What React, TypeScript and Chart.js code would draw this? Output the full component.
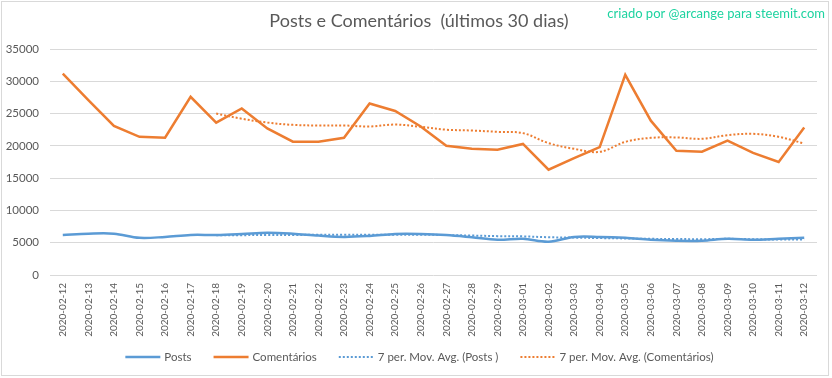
import React, { useEffect, useRef } from "react";
import { Chart, registerables } from "chart.js";

Chart.register(...registerables);

const labels = [
  "2020-02-12", "2020-02-13", "2020-02-14", "2020-02-15", "2020-02-16", "2020-02-17",
  "2020-02-18", "2020-02-19", "2020-02-20", "2020-02-21", "2020-02-22", "2020-02-23",
  "2020-02-24", "2020-02-25", "2020-02-26", "2020-02-27", "2020-02-28", "2020-02-29",
  "2020-03-01", "2020-03-02", "2020-03-03", "2020-03-04", "2020-03-05", "2020-03-06",
  "2020-03-07", "2020-03-08", "2020-03-09", "2020-03-10", "2020-03-11", "2020-03-12",
];

const posts = [
  6200, 6400, 6400, 5750, 5900, 6200, 6200, 6350, 6550, 6400, 6100, 5900,
  6050, 6350, 6350, 6200, 5850, 5450, 5600, 5150, 5900, 5900, 5750, 5450,
  5300, 5300, 5600, 5450, 5600, 5750,
];

const comentarios = [
  31200, 27100, 23100, 21400, 21250, 27600, 23600, 25800, 22700, 20650, 20650, 21250,
  26550, 25400, 23000, 20000, 19550, 19400, 20300, 16300, 18100, 19800, 31000, 23900,
  19250, 19100, 20800, 18900, 17500, 22850,
];

const maPosts = [
  null, null, null, null, null, null, 6150, 6170, 6190, 6190, 6240, 6240,
  6220, 6240, 6240, 6190, 6110, 6020, 5980, 5850, 5790, 5720, 5660, 5600,
  5580, 5540, 5600, 5540, 5490, 5490,
];

const maComentarios = [
  null, null, null, null, null, null, 25000, 24200, 23600, 23250, 23150, 23150,
  23000, 23300, 22950, 22500, 22380, 22170, 21970, 20420, 19540, 19070, 20620, 21240,
  21300, 21090, 21660, 21860, 21400, 20360,
];

const yTicks = { min: 0, max: 35000, step: 5000 };

const titleText = "Posts e Comentários  (últimos 30 dias)";
const watermark = "criado por @arcange para steemit.com";

const BLUE = "#5B9BD5";
const ORANGE = "#ED7D31";
const GREY = "#595959";
const FONT = "Lato, 'Liberation Sans', sans-serif";

const legendItems = [
  { text: "Posts", color: BLUE, dash: [] as number[] },
  { text: "Comentários", color: ORANGE, dash: [] as number[] },
  { text: "7 per. Mov. Avg. (Posts )", color: BLUE, dash: [2, 2] },
  { text: "7 per. Mov. Avg. (Comentários)", color: ORANGE, dash: [2, 2] },
];

const decorPlugin = {
  id: "decor",
  afterDraw(chart: any) {
    const ctx = chart.ctx as CanvasRenderingContext2D;
    ctx.save();
    // border
    ctx.strokeStyle = "#d9d9d9";
    ctx.lineWidth = 1;
    ctx.setLineDash([]);
    ctx.strokeRect(1.5, 1.5, 827, 374);
    // title
    ctx.fillStyle = GREY;
    ctx.font = `18px ${FONT}`;
    ctx.textAlign = "center";
    ctx.textBaseline = "middle";
    ctx.fillText(titleText, 419, 21);
    // watermark
    ctx.fillStyle = "#1ED3A0";
    ctx.font = `13px ${FONT}`;
    ctx.textAlign = "right";
    ctx.fillText(watermark, 825, 14);
    // legend
    ctx.font = `11.5px ${FONT}`;
    ctx.textAlign = "left";
    const lineW = 35;
    const gap = 4;
    const itemGap = 22;
    const widths = legendItems.map((it) => lineW + gap + ctx.measureText(it.text).width);
    const total = widths.reduce((a, b) => a + b, 0) + itemGap * (legendItems.length - 1);
    let x = 419.5 - total / 2;
    const y = 357;
    legendItems.forEach((it, i) => {
      ctx.strokeStyle = it.color;
      ctx.lineWidth = it.dash.length ? 2 : 2.5;
      ctx.setLineDash(it.dash);
      ctx.beginPath();
      ctx.moveTo(x, y);
      ctx.lineTo(x + lineW, y);
      ctx.stroke();
      ctx.setLineDash([]);
      ctx.fillStyle = GREY;
      ctx.fillText(it.text, x + lineW + gap, y);
      x += widths[i] + itemGap;
    });
    ctx.restore();
  },
};

export default function App() {
  const ref = useRef<HTMLCanvasElement | null>(null);

  useEffect(() => {
    document.body.style.margin = "0";
    const canvas = ref.current;
    if (!canvas) return;
    const chart = new Chart(canvas, {
      type: "line",
      data: {
        labels,
        datasets: [
          {
            label: "Posts",
            data: posts,
            borderColor: BLUE,
            backgroundColor: BLUE,
            borderWidth: 2.5,
            pointRadius: 0,
            tension: 0.35,
          },
          {
            label: "Comentários",
            data: comentarios,
            borderColor: ORANGE,
            backgroundColor: ORANGE,
            borderWidth: 2.5,
            pointRadius: 0,
            tension: 0,
          },
          {
            label: "7 per. Mov. Avg. (Posts )",
            data: maPosts,
            borderColor: BLUE,
            backgroundColor: BLUE,
            borderWidth: 2,
            borderDash: [2, 2],
            pointRadius: 0,
            tension: 0.35,
          },
          {
            label: "7 per. Mov. Avg. (Comentários)",
            data: maComentarios,
            borderColor: ORANGE,
            backgroundColor: ORANGE,
            borderWidth: 2,
            borderDash: [2, 2],
            pointRadius: 0,
            tension: 0.35,
          },
        ],
      },
      options: {
        responsive: false,
        animation: false,
        devicePixelRatio: 1,
        layout: { padding: { top: 49, right: 15, left: 0, bottom: 0 } },
        plugins: {
          legend: { display: false },
          title: { display: false },
          tooltip: { enabled: false },
        },
        scales: {
          x: {
            type: "category",
            offset: true,
            grid: { display: false, drawTicks: false },
            border: { display: false },
            ticks: {
              autoSkip: false,
              maxRotation: 90,
              minRotation: 90,
              padding: 8,
              color: GREY,
              font: { family: FONT, size: 10 },
            },
            afterFit(scale: any) {
              scale.height = 103;
            },
          },
          y: {
            min: yTicks.min,
            max: yTicks.max,
            ticks: {
              stepSize: yTicks.step,
              padding: 11,
              color: GREY,
              font: { family: FONT, size: 11.5 },
              callback: (v: any) => String(v),
            },
            grid: { color: "#d9d9d9", drawTicks: false, lineWidth: 1 },
            border: { display: false },
            afterFit(scale: any) {
              scale.width = 50;
            },
          },
        },
      },
      plugins: [decorPlugin],
    });
    return () => chart.destroy();
  }, []);

  return <canvas ref={ref} width={832} height={378} style={{ display: "block" }} />;
}
